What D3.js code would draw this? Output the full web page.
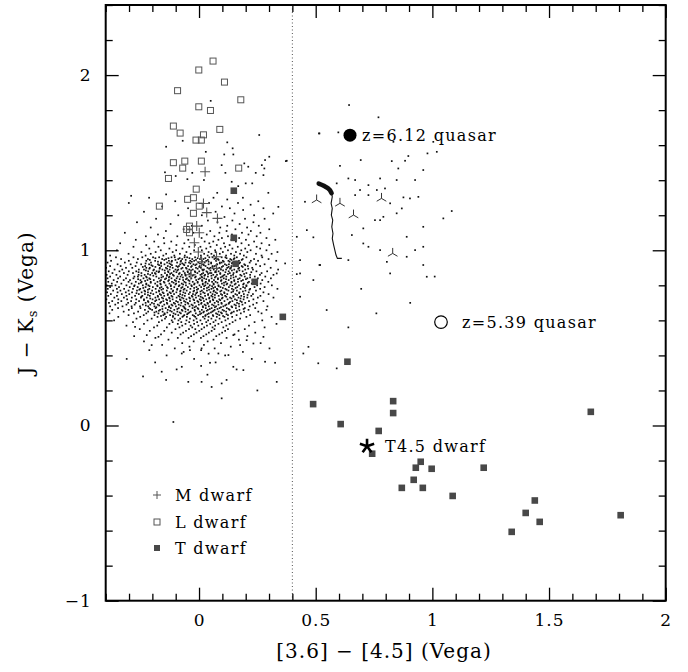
<!DOCTYPE html>
<html>
<head>
<meta charset="utf-8">
<title></title>
<style>
  body { margin: 0; background: #fff; }
  text { font-family: "DejaVu Serif", serif; fill: #000; }
</style>
</head>
<body>
<svg width="688" height="672"></svg>
<script src="https://d3js.org/d3.v7.min.js"></script>
<script>

// ---- data ----

// T dwarfs [3.6]-[4.5], J-Ks
var tDwarfs = [[0.489,0.122],[0.832,0.139],[0.832,0.071],[0.607,0.008],[0.770,-0.031],
  [0.742,-0.161],[0.950,-0.207],[0.929,-0.241],[0.997,-0.247],[1.220,-0.241],[0.920,-0.310],
  [0.869,-0.356],[0.959,-0.356],[1.087,-0.402],[1.679,0.078],[1.439,-0.428],[1.400,-0.499],
  [1.460,-0.550],[1.340,-0.607],[1.807,-0.512],[0.149,1.071],[0.157,0.923],[0.239,0.820],
  [0.359,0.620],[0.636,0.364],[0.149,1.340]];

// L dwarfs
var lDwarfs = [[0.060,2.080],[-0.001,2.029],[0.109,1.960],[-0.092,1.911],[0.179,1.859],
  [-0.001,1.819],[0.049,1.798],[-0.110,1.709],[0.089,1.690],[-0.081,1.669],[0.019,1.659],
  [-0.013,1.629],[0.010,1.629],[-0.110,1.500],[-0.061,1.509],[0.010,1.509],[-0.070,1.469],
  [0.170,1.469],[-0.131,1.410],[-0.012,1.349],[-0.049,1.291],[-0.024,1.300],[-0.170,1.252],
  [0.001,1.252],[-0.024,1.211],[-0.041,1.138],[-0.053,1.119],[-0.041,1.100]];

// M dwarfs
var mDwarfs = [[0.026,1.448],[0.019,1.267],[0.033,1.215],[0.079,1.182],[-0.010,1.138],
  [0.001,1.100],[-0.020,1.043],[-0.003,0.990],[0.075,0.963],[0.011,0.935],[0.075,0.897],
  [-0.035,0.860]];

// quasar colour track (thick top end, thin tail)
var trackThick = [[0.513,1.381],[0.525,1.374],[0.538,1.366],[0.551,1.356],[0.561,1.343],[0.568,1.326]];
var trackThin = [[0.568,1.326],[0.571,1.305],[0.566,1.268],[0.571,1.239],[0.567,1.201],
  [0.573,1.172],[0.569,1.134],[0.574,1.096],[0.571,1.068],[0.577,1.030],[0.582,1.001],
  [0.587,0.973],[0.593,0.954],[0.612,0.954]];

// three-pronged symbols
var triPts = [[0.504,1.287],[0.604,1.268],[0.662,1.201],[0.782,1.296],[0.830,0.982]];

// labelled objects
var quasarA = {x: 0.647, y: 1.657, label: "z=6.12 quasar"};
var quasarB = {x: 1.037, y: 0.590, label: "z=5.39 quasar"};
var t45 = {x: 0.720, y: -0.118, label: "T4.5 dwarf"};

var legendLabels = ["M dwarf", "L dwarf", "T dwarf"];

// field stars: sparse ones read individually
var fieldSparse = [
  [0.050,1.853],[0.258,1.658],[-0.141,1.591],[0.121,1.616],[0.144,1.582],[0.029,1.562],
  [0.108,1.547],[0.147,1.547],[-0.070,1.625],[0.301,1.534],[0.283,1.515],[0.269,1.486],
  [0.243,1.442],[0.211,1.477],[0.194,1.496],[0.097,1.486],[0.113,1.442],[-0.029,1.442],
  [-0.050,1.406],[-0.100,1.424],[-0.146,1.445],[0.021,1.401],[0.228,1.382],[0.200,1.382],
  [0.276,1.429],[0.280,1.467],[0.297,1.328],[0.140,1.391],[0.168,1.366],[-0.291,1.311],
  [-0.141,1.319],[0.078,1.328],[0.376,1.511],[0.514,1.667],
  [0.643,1.829],[0.769,1.759],[0.516,1.667],[0.597,1.673],[0.833,1.619],[1.004,1.619],
  [0.372,1.509],[0.693,1.515],[0.604,1.482],[0.826,1.509],[0.883,1.511],[0.897,1.538],
  [0.979,1.553],[1.019,1.562],[0.961,1.458],[0.854,1.467],[0.640,1.410],[0.669,1.401],
  [0.776,1.410],[0.847,1.401],[0.926,1.401],[0.590,1.382],[0.726,1.372],[0.690,1.344],
  [0.726,1.315],[0.762,1.344],[0.797,1.353],[0.669,1.315],[0.876,1.302],[0.904,1.296],
  [0.940,1.305],[0.847,1.211],[0.869,1.239],[0.819,1.268],[1.083,1.224],[0.340,1.248],
  [0.454,1.277],[0.704,1.125],[0.655,1.087],[0.754,1.172],[0.790,1.191],[0.776,1.172],
  [1.047,1.182],[0.961,1.134],[0.890,1.077],[0.462,1.115],[0.490,1.074],[0.419,1.077],
  [0.704,1.039],[0.726,1.020],[0.776,1.001],[0.926,1.001],[0.961,1.020],[0.805,0.934],
  [0.890,0.963],[0.333,0.868],[0.369,0.925],[0.519,0.916],[0.819,0.868],[0.961,0.916],
  [0.976,0.849],[0.433,0.868],[0.640,0.944],[0.433,0.735],[0.490,0.830],[0.447,0.411],
  [0.469,0.449],[0.511,0.355],[0.590,0.326],[0.547,0.659],[0.516,0.916],[0.433,0.944],
  [0.419,0.864],[0.695,0.780],[0.905,0.700],[1.010,0.850],[0.640,0.560],[0.760,0.640],
  [-0.274,0.563],[-0.224,0.516],[-0.203,0.459],[-0.174,0.506],[-0.160,0.307],[-0.074,0.411],
  [-0.039,0.430],[0.011,0.440],[0.047,0.358],[0.083,0.411],[0.126,0.402],[0.147,0.516],
  [0.176,0.459],[0.204,0.487],[0.233,0.468],[0.276,0.506],[0.283,0.364],[0.326,0.358],
  [0.011,0.249],[-0.046,0.249],[0.097,0.240],[0.147,0.335],[0.190,0.316],[-0.074,0.335],
  [0.333,0.249],[0.097,0.155],[-0.110,0.020],[-0.310,0.380],[0.250,0.200],[-0.240,0.280]
];

// field stars: dense cloud, row by row (J-Ks, then [3.6]-[4.5] values)
var fieldRows = [
  [1.30,[-0.214,0.062,0.188]],
  [1.29,[0.121]],
  [1.28,[-0.102,0.254]],
  [1.27,[-0.301,0.043,0.167]],
  [1.26,[0.221]],
  [1.25,[-0.158,0.098]],
  [1.24,[-0.047,0.276,0.132]],
  [1.23,[0.189]],
  [1.22,[-0.236,0.071]],
  [1.21,[0.152,0.318]],
  [1.20,[-0.089,0.236,0.012]],
  [1.19,[0.109]],
  [1.18,[-0.184,0.197,0.281]],
  [1.17,[0.038,0.143]],
  [1.16,[-0.266,0.079,0.233]],
  [1.15,[-0.122,0.174]],
  [1.14,[0.012,0.256,0.121,-0.031]],
  [1.13,[-0.207,0.091,0.206]],
  [1.12,[0.156,-0.066,0.301]],
  [1.11,[-0.142,0.048,0.222,0.118]],
  [1.10,[-0.318,-0.024,0.184,0.087,0.263]],
  [1.09,[-0.176,0.033,0.141,0.212]],
  [1.08,[-0.093,0.066,0.247,-0.228,0.124]],
  [1.07,[-0.151,0.011,0.172,0.289,0.098]],
  [1.06,[-0.271,-0.046,0.083,0.201,0.139,0.327]],
  [1.05,[-0.119,0.024,0.158,-0.192,0.236,0.061]],
  [1.04,[-0.338,-0.063,0.107,0.182,0.044,0.268,-0.149]],
  [1.03,[-0.226,-0.018,0.131,0.213,0.076,-0.097,0.301]],
  [1.02,[-0.281,-0.174,-0.042,0.006,0.049,0.112,0.166,0.247]],
  [1.01,[-0.213,-0.127,-0.071,0.031,0.093,0.143,0.198,0.262]],
  [1.00,[-0.352,-0.164,-0.098,-0.021,0.012,0.069,0.124,0.181,0.221,0.289]],
  [0.99,[-0.247,-0.186,-0.113,-0.054,0.041,0.071,0.102,0.158,0.207,0.336]],
  [0.98,[-0.302,-0.207,-0.141,-0.082,-0.036,0.022,0.053,0.089,0.137,0.176,0.244,0.311]],
  [0.97,[-0.381,-0.229,-0.153,-0.106,-0.061,0.008,0.037,0.064,0.116,0.151,0.192,0.268]],
  [0.96,[-0.356,-0.281,-0.243,-0.197,-0.171,-0.118,-0.104,-0.062,-0.051,-0.017,0.009,0.044,0.058,0.097,0.113,0.162,0.203,0.271]],
  [0.95,[-0.334,-0.262,-0.219,-0.158,-0.141,-0.089,-0.072,-0.029,0.004,0.019,0.066,0.081,0.134,0.149,0.187,0.236,0.298]],
  [0.94,[-0.377,-0.301,-0.226,-0.188,-0.129,-0.116,-0.077,-0.038,-0.021,0.012,0.031,0.073,0.102,0.126,0.171,0.222,0.253,0.331]],
  [0.93,[-0.392,-0.318,-0.267,-0.206,-0.163,-0.137,-0.094,-0.058,-0.043,-0.003,0.024,0.052,0.089,0.097,0.143,0.176,0.217]],
  [0.92,[-0.349,-0.293,-0.248,-0.214,-0.176,-0.148,-0.121,-0.081,-0.066,-0.024,-0.011,0.017,0.041,0.078,0.111,0.128,0.158,0.194,0.244,0.281]],
  [0.91,[-0.381,-0.336,-0.272,-0.231,-0.199,-0.162,-0.134,-0.097,-0.086,-0.047,-0.031,0.003,0.028,0.058,0.067,0.103,0.139,0.183,0.209,0.262]],
  [0.90,[-0.398,-0.313,-0.286,-0.226,-0.211,-0.168,-0.142,-0.113,-0.071,-0.056,-0.013,0.008,0.036,0.049,0.087,0.121,0.137,0.172,0.228,0.307]],
  [0.89,[-0.362,-0.329,-0.258,-0.236,-0.193,-0.157,-0.126,-0.101,-0.089,-0.042,-0.027,0.014,0.021,0.063,0.094,0.116,0.151,0.198,0.231,0.339]],
  [0.88,[-0.387,-0.341,-0.301,-0.269,-0.218,-0.182,-0.171,-0.133,-0.108,-0.067,-0.049,-0.018,0.001,0.032,0.071,0.084,0.127,0.162,0.187,0.246,0.292]],
  [0.87,[-0.371,-0.322,-0.283,-0.247,-0.201,-0.189,-0.146,-0.118,-0.083,-0.061,-0.036,-0.007,0.018,0.047,0.053,0.091,0.132,0.148,0.203,0.268]],
  [0.86,[-0.396,-0.354,-0.306,-0.259,-0.233,-0.209,-0.161,-0.137,-0.112,-0.074,-0.059,-0.023,0.006,0.026,0.061,0.077,0.109,0.146,0.177,0.219,0.261,0.319]],
  [0.85,[-0.381,-0.338,-0.277,-0.262,-0.227,-0.183,-0.154,-0.127,-0.092,-0.079,-0.041,-0.014,0.011,0.038,0.072,0.099,0.117,0.158,0.196,0.239,0.284]],
  [0.84,[-0.392,-0.347,-0.313,-0.281,-0.238,-0.213,-0.172,-0.141,-0.118,-0.096,-0.052,-0.033,0.004,0.022,0.054,0.081,0.106,0.136,0.174,0.207,0.252,0.308]],
  [0.83,[-0.366,-0.323,-0.296,-0.251,-0.221,-0.194,-0.163,-0.129,-0.104,-0.068,-0.046,-0.012,0.013,0.043,0.064,0.096,0.127,0.151,0.188,0.229,0.271]],
  [0.82,[-0.389,-0.351,-0.302,-0.271,-0.246,-0.207,-0.178,-0.151,-0.116,-0.087,-0.063,-0.027,-0.006,0.029,0.056,0.071,0.114,0.139,0.167,0.214,0.243,0.297]],
  [0.81,[-0.374,-0.333,-0.289,-0.258,-0.226,-0.188,-0.166,-0.127,-0.098,-0.074,-0.041,-0.019,0.016,0.037,0.062,0.098,0.121,0.157,0.192,0.226,0.264]],
  [0.80,[-0.396,-0.358,-0.311,-0.276,-0.241,-0.217,-0.179,-0.143,-0.121,-0.084,-0.056,-0.033,0.002,0.027,0.046,0.083,0.107,0.134,0.171,0.203,0.249,0.312]],
  [0.79,[-0.381,-0.343,-0.297,-0.263,-0.229,-0.198,-0.161,-0.137,-0.106,-0.071,-0.048,-0.011,0.009,0.041,0.069,0.092,0.128,0.164,0.189,0.238,0.281]],
  [0.78,[-0.391,-0.352,-0.321,-0.283,-0.252,-0.213,-0.186,-0.154,-0.119,-0.093,-0.062,-0.037,-0.004,0.021,0.053,0.077,0.113,0.141,0.178,0.219,0.262,0.336]],
  [0.77,[-0.368,-0.337,-0.302,-0.266,-0.234,-0.201,-0.172,-0.138,-0.111,-0.079,-0.053,-0.021,0.012,0.034,0.064,0.096,0.126,0.162,0.199,0.244]],
  [0.76,[-0.394,-0.349,-0.314,-0.287,-0.246,-0.219,-0.183,-0.156,-0.126,-0.097,-0.067,-0.039,-0.008,0.018,0.049,0.071,0.108,0.139,0.173,0.213,0.276]],
  [0.75,[-0.378,-0.331,-0.299,-0.258,-0.232,-0.196,-0.168,-0.134,-0.107,-0.081,-0.044,-0.026,0.007,0.039,0.058,0.094,0.121,0.156,0.192,0.231,0.298]],
  [0.74,[-0.389,-0.352,-0.311,-0.274,-0.243,-0.211,-0.177,-0.149,-0.118,-0.088,-0.061,-0.031,-0.002,0.026,0.053,0.084,0.112,0.147,0.181,0.224,0.263]],
  [0.73,[-0.363,-0.322,-0.288,-0.249,-0.224,-0.187,-0.159,-0.128,-0.096,-0.073,-0.042,-0.013,0.014,0.044,0.068,0.101,0.133,0.169,0.207,0.252,0.319]],
  [0.72,[-0.397,-0.346,-0.308,-0.269,-0.236,-0.199,-0.171,-0.141,-0.113,-0.082,-0.054,-0.024,0.003,0.031,0.059,0.087,0.122,0.154,0.191,0.233]],
  [0.71,[-0.372,-0.333,-0.291,-0.257,-0.219,-0.188,-0.153,-0.124,-0.098,-0.064,-0.039,-0.007,0.021,0.048,0.076,0.109,0.143,0.177,0.214,0.276]],
  [0.70,[-0.386,-0.347,-0.304,-0.271,-0.229,-0.202,-0.166,-0.138,-0.108,-0.076,-0.049,-0.019,0.011,0.036,0.067,0.096,0.129,0.163,0.198,0.247]],
  [0.69,[-0.359,-0.311,-0.276,-0.241,-0.209,-0.177,-0.149,-0.118,-0.087,-0.059,-0.032,-0.001,0.024,0.056,0.083,0.117,0.152,0.186,0.232]],
  [0.68,[-0.381,-0.328,-0.289,-0.253,-0.218,-0.191,-0.157,-0.128,-0.099,-0.068,-0.041,-0.013,0.016,0.042,0.073,0.104,0.139,0.172,0.217,0.293]],
  [0.67,[-0.347,-0.288,-0.251,-0.214,-0.186,-0.143,-0.121,-0.087,-0.062,-0.028,-0.006,0.029,0.054,0.088,0.119,0.158,0.196,0.241]],
  [0.66,[-0.372,-0.301,-0.232,-0.201,-0.167,-0.134,-0.106,-0.074,-0.047,-0.019,0.012,0.038,0.067,0.101,0.131,0.173,0.212,0.289]],
  [0.65,[-0.323,-0.261,-0.218,-0.183,-0.156,-0.117,-0.093,-0.058,-0.036,0.003,0.021,0.057,0.084,0.116,0.149,0.193,0.254]],
  [0.64,[-0.384,-0.279,-0.226,-0.174,-0.148,-0.109,-0.078,-0.047,-0.014,0.009,0.042,0.073,0.098,0.137,0.179,0.268]],
  [0.63,[-0.302,-0.237,-0.191,-0.153,-0.124,-0.089,-0.063,-0.027,-0.004,0.028,0.059,0.087,0.124,0.161,0.219]],
  [0.62,[-0.346,-0.252,-0.178,-0.141,-0.112,-0.071,-0.052,-0.016,0.017,0.041,0.076,0.109,0.142,0.203,0.311]],
  [0.61,[-0.268,-0.203,-0.146,-0.104,-0.081,-0.039,-0.011,0.024,0.053,0.088,0.124,0.176]],
  [0.60,[-0.364,-0.221,-0.159,-0.117,-0.088,-0.054,-0.023,0.006,0.039,0.071,0.113,0.156,0.271]],
  [0.59,[-0.283,-0.172,-0.113,-0.076,-0.042,-0.008,0.031,0.062,0.097,0.144,0.238]],
  [0.58,[-0.236,-0.127,-0.091,-0.058,-0.021,0.013,0.048,0.083,0.131,0.332]],
  [0.57,[-0.311,-0.179,-0.072,-0.036,-0.003,0.034,0.069,0.117,0.214]],
  [0.56,[-0.193,-0.138,-0.084,-0.029,0.022,0.058,0.104,0.281]],
  [0.55,[-0.254,-0.101,-0.043,-0.016,0.011,0.066,0.124,0.196]],
  [0.54,[-0.211,-0.149,-0.056,0.001,0.054,0.112,0.169]],
  [0.53,[-0.117,-0.068,-0.011,0.042,0.099,0.241]],
  [0.52,[-0.163,-0.079,-0.022,0.031,0.087,0.152]],
  [0.51,[-0.278,-0.034,0.019,0.074,0.207]],
  [0.50,[-0.187,-0.091,-0.045,0.008,0.118]],
  [0.49,[-0.131,0.062,0.171]],
  [0.48,[-0.236,-0.023,0.037]],
  [0.47,[-0.072,0.094,0.264]],
  [0.46,[-0.158,0.021]],
  [0.45,[-0.041,0.136]],
  [0.44,[-0.104,0.067,0.302]],
  [0.43,[-0.213,0.009]],
  [0.42,[-0.066,0.188]],
  [0.41,[0.041]],
  [0.40,[-0.139,0.112]],
  [0.38,[-0.021,0.226]],
  [0.36,[-0.188,0.071]],
  [0.34,[0.009]],
  [0.32,[-0.096,0.161]],
  [0.29,[0.036]],
  [0.26,[-0.141,0.118]],
  [0.22,[0.054]]
];

// field stars: extra points in the crowded core, between the rows above
var coreRows = [
  [0.955,[-0.187,-0.131,-0.083,-0.041,-0.006,0.027,0.071,0.118,0.152]],
  [0.945,[-0.211,-0.149,-0.101,-0.057,-0.013,0.038,0.084,0.139,0.183]],
  [0.935,[-0.176,-0.118,-0.079,-0.031,0.013,0.041,0.106,0.131,0.161]],
  [0.925,[-0.229,-0.163,-0.127,-0.072,-0.037,0.004,0.052,0.089,0.141,0.172]],
  [0.915,[-0.204,-0.171,-0.116,-0.063,-0.016,0.021,0.074,0.118,0.152,0.198]],
  [0.905,[-0.241,-0.187,-0.124,-0.091,-0.034,0.001,0.058,0.098,0.127,0.187]],
  [0.895,[-0.213,-0.169,-0.137,-0.076,-0.053,-0.006,0.043,0.077,0.133,0.168,0.211]],
  [0.885,[-0.228,-0.196,-0.147,-0.093,-0.034,0.017,0.049,0.103,0.141,0.173]],
  [0.875,[-0.259,-0.173,-0.131,-0.097,-0.048,-0.016,0.036,0.069,0.113,0.161,0.224]],
  [0.865,[-0.219,-0.186,-0.124,-0.086,-0.042,0.012,0.039,0.091,0.124,0.193]],
  [0.855,[-0.247,-0.196,-0.138,-0.108,-0.057,-0.028,0.023,0.053,0.104,0.137,0.182]],
  [0.845,[-0.224,-0.161,-0.129,-0.069,-0.017,0.013,0.068,0.093,0.148,0.219]],
  [0.835,[-0.261,-0.209,-0.146,-0.083,-0.056,-0.002,0.031,0.081,0.116,0.167,0.201]],
  [0.825,[-0.231,-0.167,-0.132,-0.099,-0.041,0.014,0.043,0.094,0.151,0.181]],
  [0.815,[-0.249,-0.207,-0.148,-0.109,-0.057,-0.006,0.027,0.079,0.107,0.139,0.209]],
  [0.805,[-0.226,-0.164,-0.101,-0.068,-0.021,0.016,0.063,0.118,0.153,0.189]],
  [0.795,[-0.278,-0.212,-0.178,-0.121,-0.087,-0.031,0.022,0.056,0.084,0.143,0.203]],
  [0.785,[-0.239,-0.168,-0.134,-0.076,-0.021,0.034,0.061,0.102,0.157,0.197]],
  [0.775,[-0.256,-0.219,-0.161,-0.094,-0.066,-0.009,0.043,0.079,0.118,0.148,0.216]],
  [0.765,[-0.231,-0.171,-0.113,-0.081,-0.024,0.006,0.062,0.091,0.146,0.188]],
  [0.755,[-0.268,-0.207,-0.152,-0.121,-0.059,-0.012,0.024,0.077,0.109,0.172]],
  [0.745,[-0.219,-0.163,-0.134,-0.071,-0.016,0.039,0.068,0.099,0.163,0.208]],
  [0.735,[-0.247,-0.176,-0.114,-0.083,-0.028,0.007,0.058,0.117,0.148,0.193]],
  [0.725,[-0.209,-0.154,-0.126,-0.067,-0.039,0.018,0.044,0.098,0.139,0.178]],
  [0.715,[-0.236,-0.183,-0.137,-0.079,-0.021,0.008,0.061,0.091,0.162]],
  [0.705,[-0.217,-0.162,-0.091,-0.058,-0.003,0.047,0.082,0.133,0.183]],
  [0.695,[-0.193,-0.136,-0.103,-0.046,0.009,0.038,0.097,0.127,0.171]],
  [0.685,[-0.228,-0.171,-0.114,-0.079,-0.027,0.029,0.063,0.112,0.158]],
  [0.675,[-0.183,-0.129,-0.063,-0.019,0.017,0.068,0.094,0.142]],
  [0.665,[-0.209,-0.157,-0.093,-0.058,-0.003,0.046,0.079,0.127,0.191]],
  [0.655,[-0.172,-0.124,-0.071,-0.018,0.033,0.062,0.107,0.163]],
  [0.645,[-0.191,-0.136,-0.083,-0.042,0.018,0.051,0.094,0.141]],
  [0.635,[-0.147,-0.101,-0.051,0.004,0.036,0.079,0.118]],
  [0.625,[-0.163,-0.112,-0.067,-0.021,0.027,0.061,0.103]]
];

// axes
var xMajor = [0, 0.5, 1, 1.5, 2];
var yMajor = [-1, 0, 1, 2];
var xMinor = d3.range(-0.4, 2.0001, 0.1).filter(function(v){ return Math.abs(v*2 - Math.round(v*2)) > 1e-6; });
var yMinor = d3.range(-1, 2.4001, 0.2).filter(function(v){ return Math.abs(v - Math.round(v)) > 1e-6; });

// ---- drawing ----
var svg = d3.select("svg");
var pLeft = 105.7, pRight = 665.7, pTop = 5, pBottom = 600.7;
var x = d3.scaleLinear().domain([-0.4, 2]).range([pLeft, pRight]);
var y = d3.scaleLinear().domain([-1, 2.4]).range([pBottom, pTop]);
var fmt = d3.format("~g");

// field stars
var fieldPts = [];
fieldRows.concat(coreRows).forEach(function(r){ r[1].forEach(function(v){ fieldPts.push([v, r[0]]); }); });
fieldSparse.forEach(function(p){ fieldPts.push(p); });
svg.append("g").selectAll("rect").data(fieldPts).join("rect")
    .attr("x", function(d){ return x(d[0]) - 0.85; })
    .attr("y", function(d){ return y(d[1]) - 0.85; })
    .attr("width", 1.7).attr("height", 1.7)
    .attr("fill", "#111");

// dotted divider at 0.4
svg.append("line")
    .attr("x1", x(0.4)).attr("x2", x(0.4)).attr("y1", pTop).attr("y2", pBottom)
    .attr("stroke", "#555").attr("stroke-width", 1).attr("stroke-dasharray", "1,2.5");

// axes with inward ticks
function axisGroup(axis, tr) {
  var g = svg.append("g").attr("transform", tr).call(axis);
  g.select(".domain").remove();
  g.selectAll(".tick line").attr("stroke", "#000").attr("stroke-width", 1.3);
  g.selectAll("text").style("font-family", "'DejaVu Serif', serif")
    .style("font-size", "17px").style("letter-spacing", "1px").attr("fill", "#000");
  return g;
}
axisGroup(d3.axisBottom(x).tickValues(xMajor).tickSize(-13).tickPadding(13).tickFormat(fmt), "translate(0," + pBottom + ")");
axisGroup(d3.axisBottom(x).tickValues(xMinor).tickSize(-7).tickFormat(""), "translate(0," + pBottom + ")");
axisGroup(d3.axisTop(x).tickValues(xMajor).tickSize(-13).tickFormat(""), "translate(0," + pTop + ")");
axisGroup(d3.axisTop(x).tickValues(xMinor).tickSize(-7).tickFormat(""), "translate(0," + pTop + ")");
axisGroup(d3.axisLeft(y).tickValues(yMajor).tickSize(-13).tickPadding(14).tickFormat(fmt), "translate(" + pLeft + ",0)");
axisGroup(d3.axisLeft(y).tickValues(yMinor).tickSize(-7).tickFormat(""), "translate(" + pLeft + ",0)");
axisGroup(d3.axisRight(y).tickValues(yMajor).tickSize(-13).tickFormat(""), "translate(" + pRight + ",0)");
axisGroup(d3.axisRight(y).tickValues(yMinor).tickSize(-7).tickFormat(""), "translate(" + pRight + ",0)");

svg.append("rect")
    .attr("x", pLeft).attr("y", pTop).attr("width", pRight - pLeft).attr("height", pBottom - pTop)
    .attr("fill", "none").attr("stroke", "#000").attr("stroke-width", 2);

// axis titles
svg.append("text")
    .attr("x", 384).attr("y", 658).attr("text-anchor", "middle")
    .style("font-size", "20px").style("letter-spacing", "1px")
    .text("[3.6] \u2212 [4.5] (Vega)");
var yt = svg.append("text")
    .attr("transform", "translate(33,303) rotate(-90)").attr("text-anchor", "middle")
    .style("font-size", "20px").style("letter-spacing", "1px");
yt.append("tspan").text("J \u2212 K");
yt.append("tspan").attr("dy", 4).style("font-size", "13px").text("s");
yt.append("tspan").attr("dy", -4).text(" (Vega)");

// quasar track
var line = d3.line().x(function(d){ return x(d[0]); }).y(function(d){ return y(d[1]); });
svg.append("path").attr("d", line(trackThin))
    .attr("fill", "none").attr("stroke", "#111").attr("stroke-width", 1.1);
svg.append("path").attr("d", line(trackThick))
    .attr("fill", "none").attr("stroke", "#111").attr("stroke-width", 4.6)
    .attr("stroke-linecap", "round").attr("stroke-linejoin", "round");

// three-pronged markers
svg.append("g").selectAll("path").data(triPts).join("path")
    .attr("transform", function(d){ return "translate(" + x(d[0]) + "," + y(d[1]) + ")"; })
    .attr("d", "M0,0L0,-5.5M0,0L-4.8,2.8M0,0L4.8,2.8")
    .attr("fill", "none").attr("stroke", "#333").attr("stroke-width", 1);

// M dwarfs (+)
var plusPath = "M-5,0H5M0,-5V5";
svg.append("g").selectAll("path").data(mDwarfs).join("path")
    .attr("transform", function(d){ return "translate(" + x(d[0]) + "," + y(d[1]) + ")"; })
    .attr("d", plusPath).attr("stroke", "#555").attr("stroke-width", 1.1);

// L dwarfs (open squares)
svg.append("g").selectAll("rect").data(lDwarfs).join("rect")
    .attr("x", function(d){ return x(d[0]) - 3; })
    .attr("y", function(d){ return y(d[1]) - 3; })
    .attr("width", 6).attr("height", 6)
    .attr("fill", "none").attr("stroke", "#555").attr("stroke-width", 1);

// T dwarfs (filled squares)
svg.append("g").selectAll("rect").data(tDwarfs).join("rect")
    .attr("x", function(d){ return x(d[0]) - 3.3; })
    .attr("y", function(d){ return y(d[1]) - 3.3; })
    .attr("width", 6.6).attr("height", 6.6)
    .attr("fill", "#484848");

// labelled objects
svg.append("circle").attr("cx", x(quasarA.x)).attr("cy", y(quasarA.y)).attr("r", 6.5).attr("fill", "#000");
svg.append("text").attr("x", x(quasarA.x) + 12).attr("y", y(quasarA.y) + 5.5)
    .style("font-size", "16px").style("letter-spacing", "1.3px").text(quasarA.label);
svg.append("circle").attr("cx", x(quasarB.x)).attr("cy", y(quasarB.y)).attr("r", 6.3)
    .attr("fill", "none").attr("stroke", "#000").attr("stroke-width", 1.2);
svg.append("text").attr("x", x(quasarB.x) + 21).attr("y", y(quasarB.y) + 5.5)
    .style("font-size", "16px").style("letter-spacing", "1.3px").text(quasarB.label);

var star = "";
for (var i = 0; i < 5; i++) {
  var a = (-90 + i * 72) * Math.PI / 180;
  star += "M0,0L" + (7.5 * Math.cos(a)).toFixed(2) + "," + (7.5 * Math.sin(a)).toFixed(2);
}
svg.append("path").attr("transform", "translate(" + x(t45.x) + "," + y(t45.y) + ")")
    .attr("d", star).attr("stroke", "#000").attr("stroke-width", 2.6).attr("fill", "none");
svg.append("text").attr("x", x(t45.x) + 18).attr("y", y(t45.y) + 5.5)
    .style("font-size", "16px").style("letter-spacing", "1.3px").text(t45.label);

// legend
var lg = svg.append("g").attr("transform", "translate(157,495)");
legendLabels.forEach(function(lab, i) {
  var gy = [0, 27, 53][i];
  if (i === 0) lg.append("path").attr("d", "M-4,0H4M0,-4V4").attr("transform", "translate(0," + gy + ")").attr("stroke", "#555").attr("stroke-width", 1);
  if (i === 1) lg.append("rect").attr("x", -3).attr("y", gy - 3).attr("width", 6).attr("height", 6).attr("fill", "none").attr("stroke", "#555");
  if (i === 2) lg.append("rect").attr("x", -3).attr("y", gy - 3).attr("width", 6).attr("height", 6).attr("fill", "#484848");
  lg.append("text").attr("x", 18).attr("y", gy + 5.5)
    .style("font-size", "16px").style("letter-spacing", "1.3px").text(lab);
});
</script>
</body>
</html>
